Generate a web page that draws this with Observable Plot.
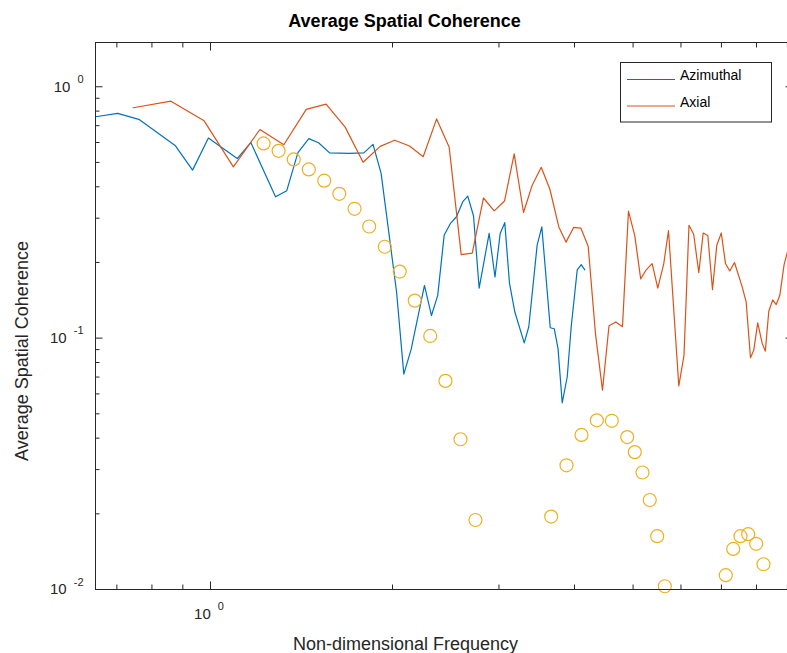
<!DOCTYPE html>
<html>
<head>
<meta charset="utf-8">
<script src="https://cdn.jsdelivr.net/npm/d3@7"></script>
<script src="https://cdn.jsdelivr.net/npm/@observablehq/plot@0.6"></script>
<style>
  html, body { margin: 0; padding: 0; background: #fff; overflow: hidden; }
  svg { display: block; }
</style>
</head>
<body>
<script>
// ---- Data ----
const azimuthalFreq = [0.6453, 0.702, 0.761, 0.875, 0.934, 0.992, 1.107, 1.166, 1.281, 1.337,
  1.395, 1.454, 1.509, 1.574, 1.694, 1.793, 1.857, 1.915, 2.031, 2.088,
  2.147, 2.259, 2.320, 2.376, 2.435, 2.494, 2.552, 2.614, 2.664, 2.723,
  2.782, 2.890, 2.955, 3.014, 3.067, 3.123, 3.187, 3.303, 3.361, 3.470,
  3.532, 3.647, 3.703, 3.757, 3.817, 3.891, 3.950, 4.042, 4.104, 4.160];
const azimuthalCoh = [0.760, 0.784, 0.742, 0.582, 0.466, 0.625, 0.518, 0.600, 0.365, 0.386,
  0.547, 0.622, 0.599, 0.546, 0.543, 0.546, 0.590, 0.452, 0.153, 0.0719,
  0.0902, 0.162, 0.123, 0.148, 0.257, 0.286, 0.304, 0.349, 0.367, 0.306,
  0.158, 0.261, 0.175, 0.261, 0.288, 0.165, 0.127, 0.0958, 0.111, 0.235,
  0.277, 0.110, 0.109, 0.0908, 0.0553, 0.0702, 0.111, 0.187, 0.196, 0.187];

const axialFreq = [0.745, 0.860, 0.976, 1.091, 1.207, 1.322, 1.440, 1.553, 1.670, 1.788,
  1.908, 2.017, 2.134, 2.248, 2.366, 2.482, 2.598, 2.710, 2.828, 2.946,
  3.064, 3.179, 3.294, 3.405, 3.524, 3.641, 3.768, 3.873, 3.988, 4.097,
  4.214, 4.333, 4.450, 4.562, 4.681, 4.802, 4.913, 5.033, 5.147, 5.256,
  5.377, 5.493, 5.620, 5.722, 5.951, 6.070, 6.186, 6.298, 6.422, 6.530,
  6.646, 6.766, 6.877, 6.996, 7.109, 7.226, 7.357, 7.576, 7.692, 7.819,
  7.918, 8.037, 8.176, 8.273, 8.384, 8.509, 8.624, 8.743, 8.884, 9.003];
const axialCoh = [0.825, 0.876, 0.732, 0.480, 0.676, 0.588, 0.813, 0.853, 0.691, 0.501,
  0.579, 0.613, 0.581, 0.527, 0.745, 0.574, 0.215, 0.218, 0.361, 0.321,
  0.351, 0.541, 0.316, 0.406, 0.478, 0.392, 0.277, 0.241, 0.276, 0.274,
  0.232, 0.104, 0.0621, 0.112, 0.116, 0.111, 0.320, 0.255, 0.172, 0.187,
  0.198, 0.158, 0.198, 0.268, 0.0645, 0.0856, 0.281, 0.259, 0.182, 0.262,
  0.256, 0.156, 0.234, 0.262, 0.198, 0.185, 0.200, 0.160, 0.139, 0.0835,
  0.0896, 0.115, 0.0953, 0.0888, 0.128, 0.142, 0.136, 0.148, 0.195, 0.221];

const circleFreq = [1.224, 1.296, 1.373, 1.454, 1.542, 1.633, 1.731, 1.830, 1.942, 2.056,
  2.177, 2.309, 2.447, 2.591, 2.743, 3.660, 3.880, 4.108, 4.355, 4.611,
  4.889, 5.033, 5.182, 5.328, 5.481, 5.642, 7.117, 7.321, 7.527, 7.751,
  7.991, 8.216];
const circleCoh = [0.595, 0.556, 0.514, 0.469, 0.423, 0.375, 0.327, 0.278, 0.231, 0.184,
  0.141, 0.102, 0.0676, 0.0396, 0.0189, 0.0195, 0.0312, 0.0412, 0.0471, 0.0469,
  0.0404, 0.0352, 0.0292, 0.0227, 0.0163, 0.0103, 0.0114, 0.0145, 0.0163, 0.0166,
  0.0152, 0.0126];

const seriesNames = ["Azimuthal", "Axial"];
const xMajorTicks = [1];
const xTickLabels = ["10^0"];
const xMinorTicks = [0.7, 0.8, 0.9, 2, 3, 4, 5, 6, 7, 8, 9];
const yMajorTicks = [0.01, 0.1, 1];
const yTickLabels = ["10^-2", "10^-1", "10^0"];
const yMinorTicks = [0.02, 0.03, 0.04, 0.05, 0.06, 0.07, 0.08, 0.09,
                     0.2, 0.3, 0.4, 0.5, 0.6, 0.7, 0.8, 0.9];
const titleText = "Average Spatial Coherence";
const xLabelText = "Non-dimensional Frequency";
const yLabelText = "Average Spatial Coherence";

// ---- Styling ----
const BLUE = "#0072BD", ORANGE = "#D95319", YELLOW = "#EDB120", INK = "#262626";
const FONT = "'Liberation Sans', Arial, Helvetica, sans-serif";

const azimuthal = azimuthalFreq.map((f, i) => ({f, c: azimuthalCoh[i]}));
const axial = axialFreq.map((f, i) => ({f, c: axialCoh[i]}));
const circles = circleFreq.map((f, i) => ({f, c: circleCoh[i]}));

const xLabelMap = new Map(xMajorTicks.map((v, i) => [v, xTickLabels[i]]));
const yLabelMap = new Map(yMajorTicks.map((v, i) => [v, yTickLabels[i]]));

const tickOnly = (axisFn, values, anchor, size) =>
  axisFn(values, {anchor, tickSize: -size, stroke: INK, fill: "none", label: null, strokeWidth: 1});

const chart = Plot.plot({
  width: 787,
  height: 653,
  marginLeft: 95,
  marginRight: -5,
  marginTop: 42,
  marginBottom: 64,
  style: {fontFamily: FONT, background: "white", color: INK},
  x: {type: "log", domain: [0.6453, 9.176], label: null},
  y: {type: "log", domain: [0.01, 1.5], label: null},
  marks: [
    Plot.line(azimuthal, {x: "f", y: "c", stroke: BLUE, strokeWidth: 1.2, clip: true}),
    Plot.line(axial, {x: "f", y: "c", stroke: ORANGE, strokeWidth: 1.2, clip: true}),
    Plot.dot(circles, {x: "f", y: "c", r: 6.5, stroke: YELLOW, strokeWidth: 1.2, fill: "none"}),
    Plot.frame({stroke: INK, strokeWidth: 1}),
    tickOnly(Plot.axisX, xMajorTicks, "bottom", 7.5),
    tickOnly(Plot.axisX, xMinorTicks, "bottom", 4.5),
    tickOnly(Plot.axisX, xMajorTicks, "top", 7.5),
    tickOnly(Plot.axisX, xMinorTicks, "top", 4.5),
    tickOnly(Plot.axisY, yMajorTicks, "left", 7.5),
    tickOnly(Plot.axisY, yMinorTicks, "left", 4.5),
    tickOnly(Plot.axisY, yMajorTicks, "right", 7.5),
    tickOnly(Plot.axisY, yMinorTicks, "right", 4.5),
    Plot.axisX(xMajorTicks, {anchor: "bottom", tickSize: 0, tickPadding: 18.4, fontSize: 15,
      fill: INK, label: null, dx: -1.5, tickFormat: d => xLabelMap.get(d)}),
    Plot.axisY(yMajorTicks, {anchor: "left", tickSize: 0, tickPadding: 12, fontSize: 15,
      fill: INK, label: null, tickFormat: d => yLabelMap.get(d)})
  ]
});

document.body.append(chart);
const svg = d3.select(chart);

// superscript exponents on the tick labels
svg.selectAll("text").each(function() {
  const t = d3.select(this);
  const s = t.text();
  if (!s.includes("^")) return;
  const [base, exp] = s.split("^");
  t.text(null);
  t.append("tspan").text(base);
  t.append("tspan").attr("dx", 7).attr("dy", -8.5).attr("font-size", 11).text(exp);
});

// title and axis labels
svg.append("text")
  .attr("x", 404.5).attr("y", 27)
  .attr("text-anchor", "middle")
  .attr("font-family", FONT).attr("font-size", 18).attr("font-weight", "bold")
  .attr("fill", "#000")
  .text(titleText);

svg.append("text")
  .attr("x", 405.5).attr("y", 650)
  .attr("text-anchor", "middle")
  .attr("font-family", FONT).attr("font-size", 18)
  .attr("fill", INK)
  .text(xLabelText);

svg.append("text")
  .attr("transform", "translate(28,351) rotate(-90)")
  .attr("text-anchor", "middle")
  .attr("font-family", FONT).attr("font-size", 18)
  .attr("fill", INK)
  .text(yLabelText);

// legend
const legend = svg.append("g");
legend.append("rect")
  .attr("x", 620.5).attr("y", 62.5).attr("width", 151).attr("height", 59.5)
  .attr("fill", "white").attr("stroke", INK).attr("stroke-width", 1);
[[seriesNames[0], BLUE, 79.5], [seriesNames[1], ORANGE, 106]].forEach(([name, color, y]) => {
  legend.append("line")
    .attr("x1", 627).attr("x2", 675).attr("y1", y).attr("y2", y)
    .attr("stroke", color).attr("stroke-width", 1.2);
  legend.append("text")
    .attr("x", 680).attr("y", y + 0.7)
    .attr("text-anchor", "start")
    .attr("font-family", FONT).attr("font-size", 14)
    .attr("fill", "#000")
    .text(name);
});
</script>
</body>
</html>
